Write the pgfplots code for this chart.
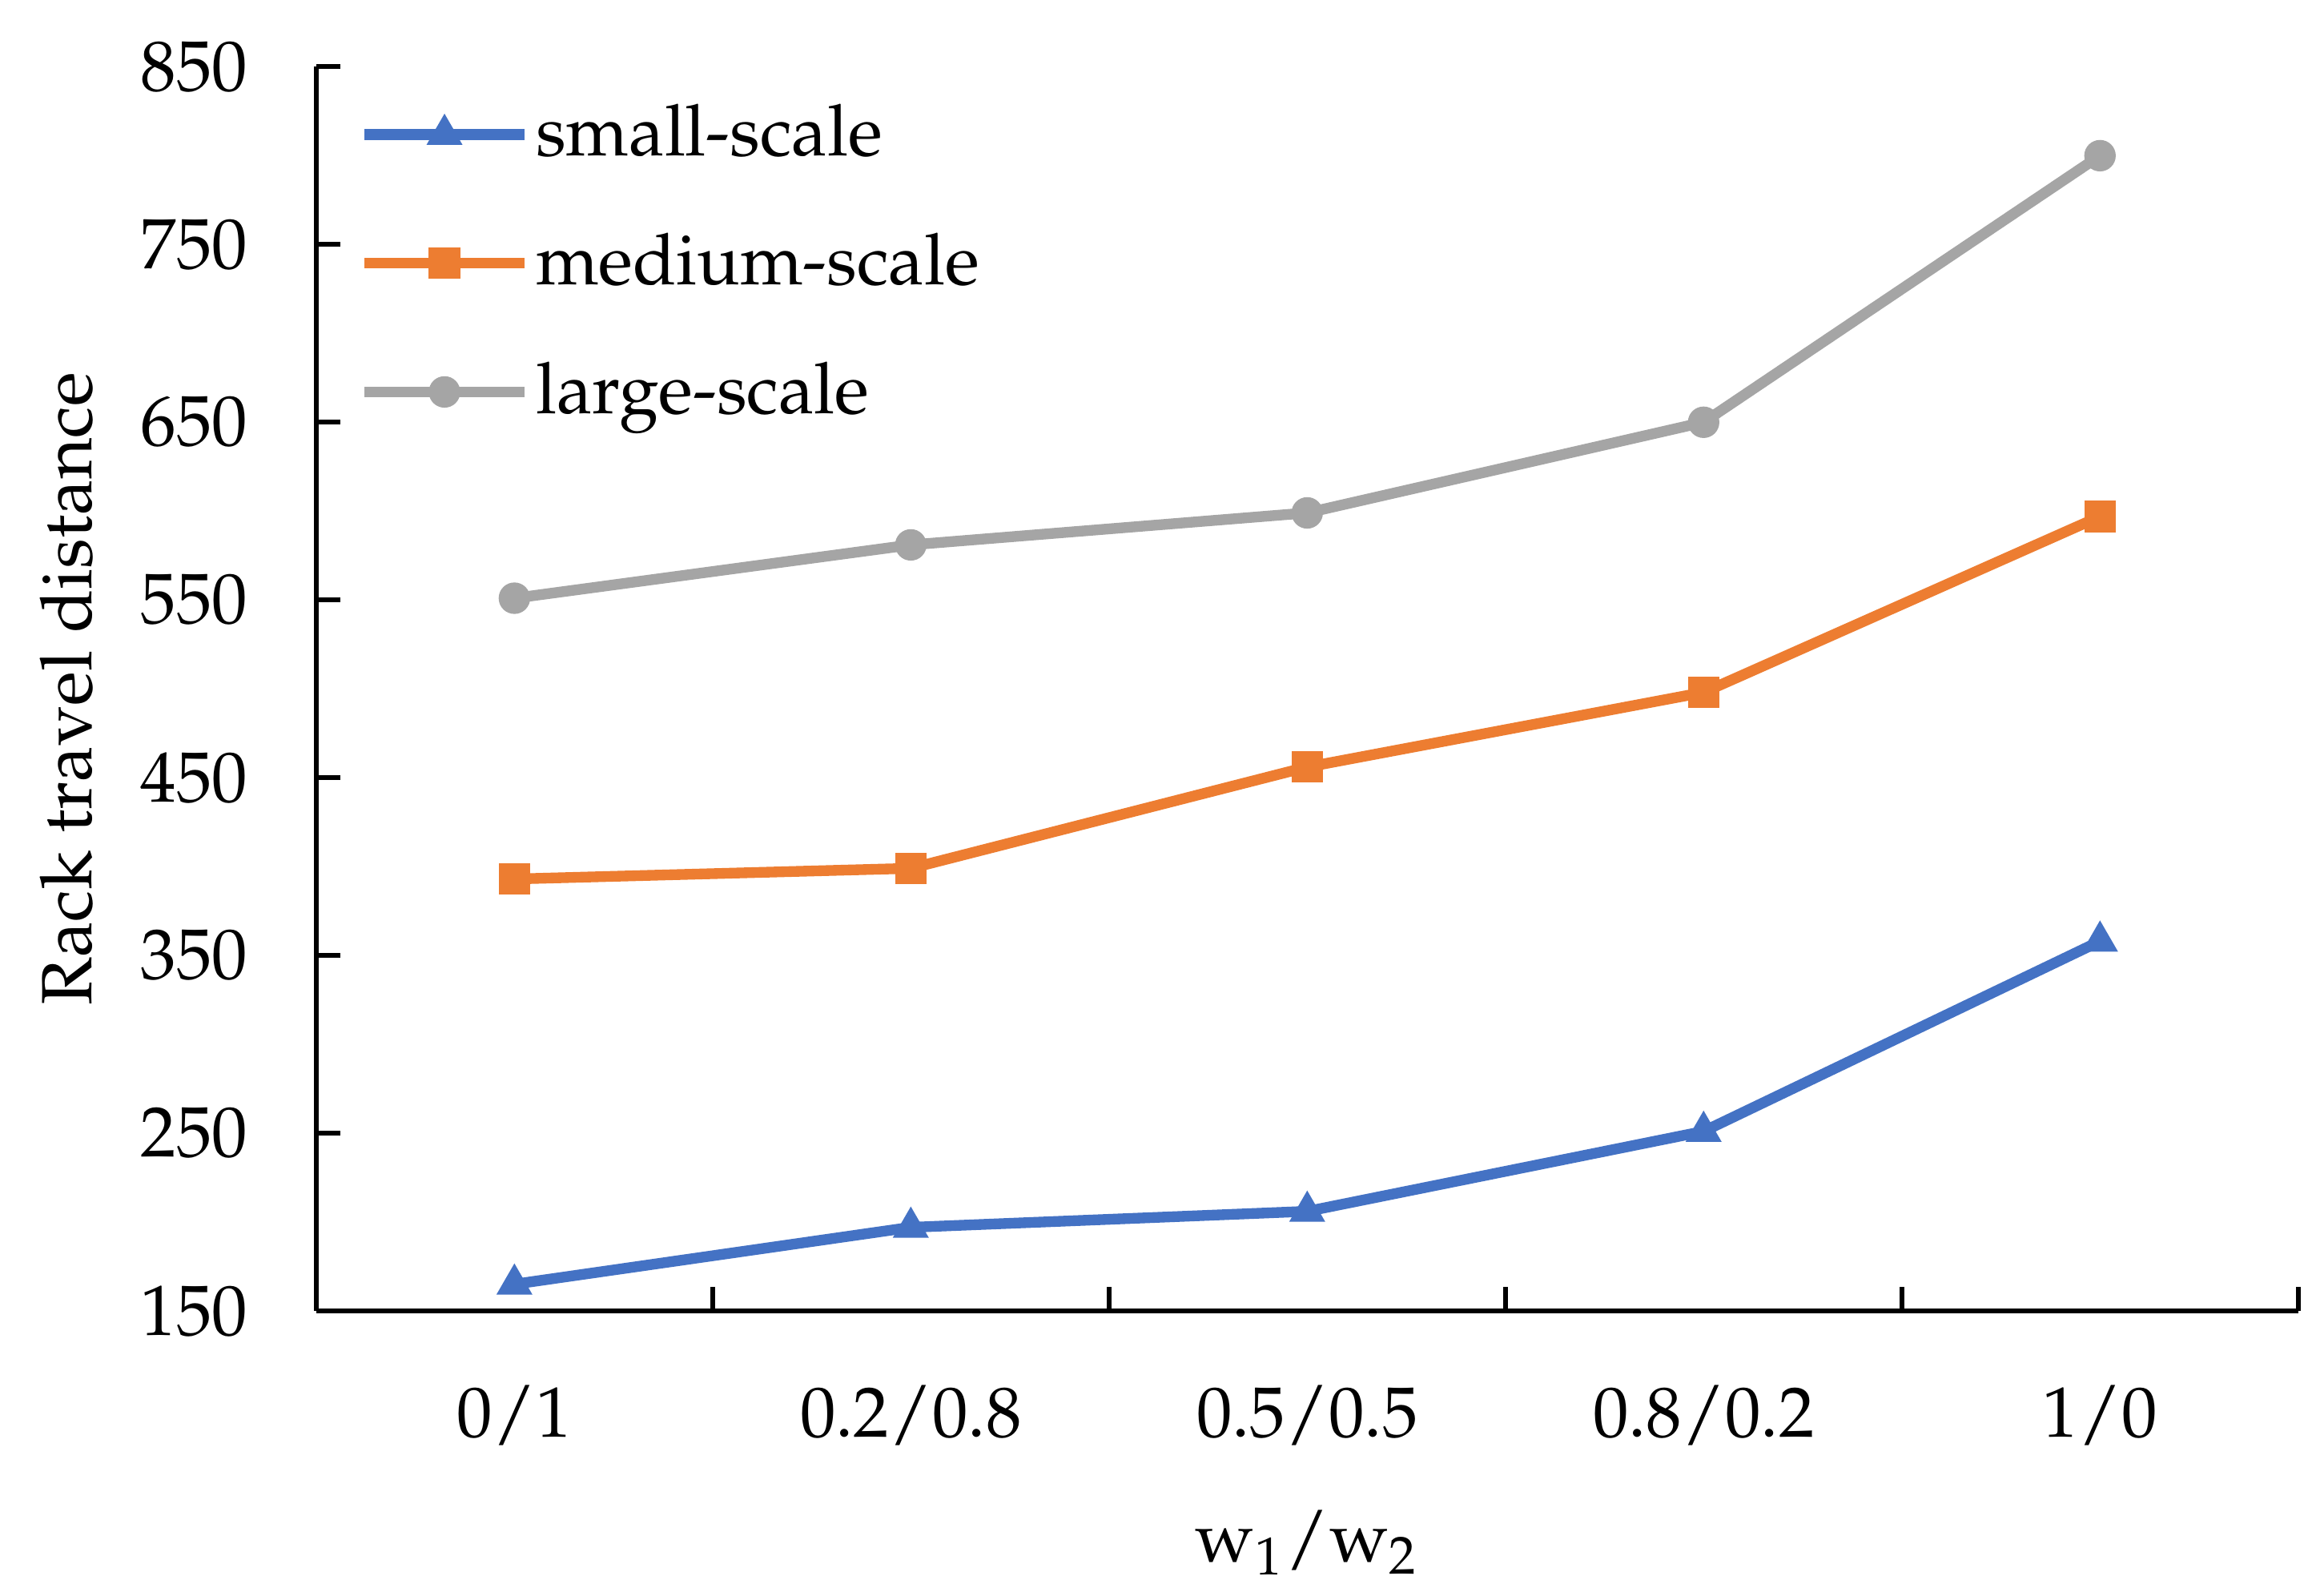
\documentclass[border=0pt]{standalone}
\usepackage[T1]{fontenc}
\usepackage{mathpazo}
\usepackage{pgfplots}
\pgfplotsset{compat=1.18}
\definecolor{cblue}{HTML}{4472C4}
\definecolor{corange}{HTML}{ED7D31}
\definecolor{cgray}{HTML}{A5A5A5}
\begin{document}
\begin{tikzpicture}
\begin{axis}[
    width=333.75pt, height=209.5pt, scale only axis,
    axis lines*=left,
    xmin=0, xmax=5, ymin=150, ymax=850,
    xtick={0.5,1.5,2.5,3.5,4.5},
    xticklabels={0/1,0.2/0.8,0.5/0.5,0.8/0.2,1/0},
    minor xtick={1,2,3,4,5},
    ytick={150,250,...,850},
    tick align=inside,
    major tick length=4pt, minor tick length=4pt,
    major x tick style={draw=none},
    tick style={black, line width=0.8pt},
    axis line style={black, line width=0.8pt},
    font=\fontsize{12}{14}\selectfont,
    xticklabel style={yshift=-9pt},
    yticklabel style={xshift=-8pt},
    xlabel={$\mathrm{w}_1/\mathrm{w}_2$},
    ylabel={Rack travel distance},
    xlabel style={at={(axis description cs:0.5,-0.186)}, anchor=center},
    ylabel style={at={(axis description cs:-0.126,0.5)}, anchor=center},
    legend style={at={(axis description cs:0.012,0.99)}, anchor=north west,
        draw=none, fill=none, row sep=7.5pt, font=\fontsize{12}{14}\selectfont,
        nodes={inner xsep=1pt}},
    legend cell align=left,
    legend image code/.code={\draw[mark repeat=2,mark phase=2,#1] plot coordinates {(0pt,0pt) (13.5pt,0pt) (27pt,0pt)};},
]
% small-scale
\addplot[cblue, line width=1.8pt, mark=triangle*, mark size=3pt, mark options={solid, line width=0.5pt}]
coordinates {(0.5,165) (1.5,197) (2.5,206) (3.5,251) (4.5,358)};
\addlegendentry{small-scale}
% medium-scale
\addplot[corange, line width=1.8pt, mark=square*, mark size=2.4pt, mark options={solid, line width=0.5pt}]
coordinates {(0.5,393) (1.5,399) (2.5,456) (3.5,498) (4.5,597)};
\addlegendentry{medium-scale}
% large-scale
\addplot[cgray, line width=1.8pt, mark=*, mark size=2.4pt, mark options={solid, line width=0.5pt}]
coordinates {(0.5,551) (1.5,581) (2.5,599) (3.5,650) (4.5,800)};
\addlegendentry{large-scale}
\end{axis}
\path (current axis.south west) ++(-53.25pt,-48pt) rectangle ([xshift=3pt,yshift=11.25pt]current axis.north east);
\end{tikzpicture}
\end{document}
